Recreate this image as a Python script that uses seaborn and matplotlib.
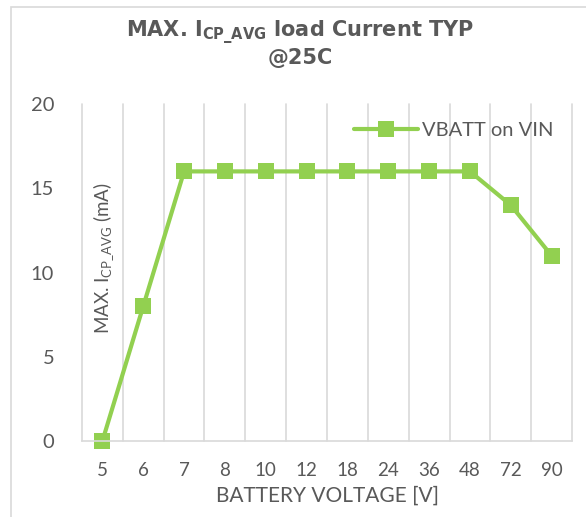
import matplotlib
matplotlib.use('Agg')
import matplotlib.pyplot as plt
import seaborn as sns
import pandas as pd

# 数据
voltages = ['5', '6', '7', '8', '10', '12', '18', '24', '36', '48', '72', '90']
icp_avg = [0, 8, 16, 16, 16, 16, 16, 16, 16, 16, 14, 11]

GREEN = '#92D050'
TEXT = '#595959'
GRID = '#D9D9D9'

sns.set_theme(style='white')
plt.rcParams['font.family'] = ['Lato', 'DejaVu Sans']
plt.rcParams['mathtext.fontset'] = 'custom'
plt.rcParams['mathtext.rm'] = 'Lato'
plt.rcParams['mathtext.bf'] = 'DejaVu Sans:bold'

df = pd.DataFrame({'V': voltages, 'I': icp_avg})

fig = plt.figure(figsize=(5.86, 5.17), dpi=100)
ax = fig.add_axes([82 / 586, 1 - 441 / 517, (572 - 82) / 586, (441 - 104) / 517])

sns.lineplot(data=df, x='V', y='I', ax=ax, color=GREEN, linewidth=3,
             marker='s', markersize=11, markeredgewidth=0, label='VBATT on VIN',
             sort=False)

ax.set_xlim(-0.5, len(voltages) - 0.5)
ax.set_ylim(0, 20)
ax.set_yticks([0, 5, 10, 15, 20])

# 分类之间的竖向网格线
for b in range(len(voltages) + 1):
    ax.axvline(b - 0.5, color=GRID, linewidth=1.2, zorder=0)

for s in ['top', 'right', 'left']:
    ax.spines[s].set_visible(False)
ax.spines['bottom'].set_color(GRID)
ax.spines['bottom'].set_linewidth(1.2)
ax.tick_params(axis='both', length=0, colors=TEXT)
ax.tick_params(axis='y', labelsize=14.5, pad=20)
ax.tick_params(axis='x', labelsize=13.5, pad=15)
for ln in ax.lines:
    ln.set_clip_on(False)

ax.set_xlabel('BATTERY VOLTAGE [V]', fontsize=15, color=TEXT, labelpad=5)
ax.set_ylabel('')

fig.text(104 / 586, 1 - 258 / 517, r'MAX. I$_{\mathrm{CP\_AVG}}$ (mA)', rotation=90,
         ha='center', va='center', fontsize=13.5, color=TEXT)

fig.text(300 / 586, 1 - 33 / 517, r'MAX. I$_{\mathbf{CP\_AVG}}$ load Current TYP',
         ha='center', va='center', fontsize=15, fontweight='bold', color=TEXT,
         family=['DejaVu Sans'])
fig.text(300 / 586, 1 - 58 / 517, '@25C', ha='center', va='center', fontsize=15,
         fontweight='bold', color=TEXT, family=['DejaVu Sans'])

leg = ax.legend(loc='upper right', bbox_to_anchor=(1.0, 1.0), frameon=False,
                fontsize=14.5, handlelength=3.2, handletextpad=0.2, borderaxespad=0.5)
for t in leg.get_texts():
    t.set_color(TEXT)

# 图表外框
fig.patches.append(plt.Rectangle((11 / 586, -0.01), 1.0, 1 - 7 / 517 + 0.01,
                                 transform=fig.transFigure, fill=False,
                                 edgecolor=GRID, linewidth=1.2))

fig.savefig('out.png', dpi=100)
